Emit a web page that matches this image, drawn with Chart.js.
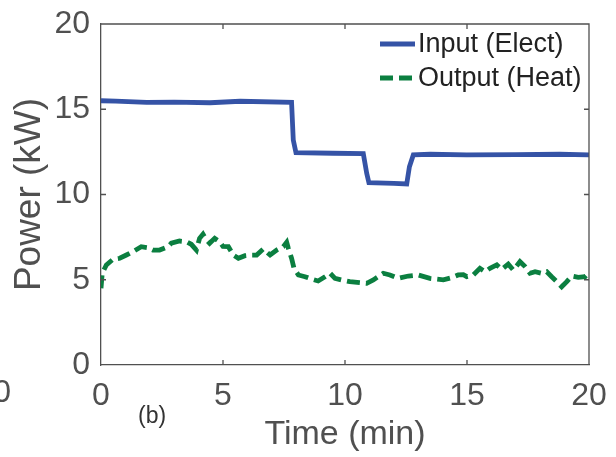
<!DOCTYPE html>
<html>
<head>
<meta charset="utf-8">
<script src="https://cdn.jsdelivr.net/npm/chart.js@4/dist/chart.umd.min.js"></script>
<style>
  html, body { margin: 0; padding: 0; background: #fff; }
  #wrap { width: 616px; height: 457px; }
</style>
</head>
<body>
<div id="wrap"><canvas id="power" width="616" height="457"></canvas></div>
<script>
// Input (Elect) - electrical power in, kW
const timeIn = [0, 0.6, 1.87, 3.0, 4.47, 5.7, 7.81, 7.88, 7.99, 9.5, 10.75, 10.89, 10.98, 12.0, 12.53, 12.64, 12.8, 13.5, 14.99, 17.0, 18.8, 20];
const powerIn = [15.5, 15.48, 15.4, 15.42, 15.38, 15.47, 15.4, 13.2, 12.45, 12.42, 12.4, 11.24, 10.69, 10.65, 10.62, 11.63, 12.32, 12.36, 12.32, 12.34, 12.36, 12.32];

// Output (Heat) - heat delivered, kW
const timeOut = [0, 0.05, 0.22, 0.49, 0.77, 1.04, 1.31, 1.65, 1.93, 2.13, 2.4, 2.75, 2.88, 3.22, 3.5, 3.7, 3.91, 4.04, 4.18, 4.32,
  4.45, 4.66, 4.86, 5.0, 5.22, 5.42, 5.63, 5.9, 6.18, 6.38, 6.65, 6.93, 7.2, 7.47, 7.61, 7.68, 7.81, 7.91, 8.09, 8.36,
  8.64, 8.9, 9.18, 9.39, 9.59, 9.86, 10.2, 10.6, 10.89, 11.16, 11.57, 11.84, 12.18, 12.6, 13.0, 13.48, 14.03, 14.37, 14.64, 14.85,
  14.99, 15.26, 15.53, 15.74, 15.94, 16.22, 16.42, 16.69, 16.9, 17.17, 17.38, 17.58, 17.79, 18.06, 18.27, 18.47, 18.68, 18.88, 19.09, 19.29,
  19.56, 19.84, 19.97];
const powerOut = [4.5, 5.38, 5.87, 6.2, 6.26, 6.45, 6.65, 6.94, 6.88, 6.74, 6.74, 6.94, 7.14, 7.27, 7.23, 7.08, 6.74, 7.43, 7.67, 7.33,
  7.14, 7.43, 7.23, 6.95, 6.94, 6.45, 6.26, 6.41, 6.45, 6.45, 6.8, 6.45, 6.74, 6.94, 7.2, 6.84, 6.26, 5.67, 5.28, 5.18,
  5.04, 4.93, 5.18, 5.38, 5.08, 4.99, 4.89, 4.83, 4.79, 4.99, 5.38, 5.28, 5.08, 5.22, 5.28, 5.08, 4.99, 5.12, 5.28, 5.3,
  5.18, 5.28, 5.67, 5.47, 5.67, 5.87, 5.61, 5.92, 5.57, 6.06, 5.77, 5.38, 5.47, 5.38, 5.47, 5.18, 4.89, 4.59, 4.89, 5.22,
  5.14, 5.18, 5.38];

const tickValues = [0, 5, 10, 15, 20];
const seriesLabels = ['Input (Elect)', 'Output (Heat)'];

const fontFamily = '"Liberation Sans", Arial, sans-serif';
const axisColor = '#505050';
const blue = '#3553a6';
const green = '#0b7f40';

function pairs(xs, ys) {
    return xs.map(function (x, i) { return { x: x, y: ys[i] }; });
}

// box, inward ticks, legend and loose labels
const framePlugin = {
    id: 'frame',
    afterDraw: function (chart) {
        const ctx = chart.ctx;
        const a = chart.chartArea;
        const xs = chart.scales.x, ys = chart.scales.y;
        const tl = 5;
        ctx.save();
        ctx.strokeStyle = axisColor;
        ctx.lineWidth = 1.3;
        ctx.beginPath();
        ctx.moveTo(a.left, a.top); ctx.lineTo(a.right, a.top); ctx.lineTo(a.right, a.bottom);
        tickValues.slice(1, -1).forEach(function (v) {
            const px = xs.getPixelForValue(v);
            ctx.moveTo(px, a.bottom); ctx.lineTo(px, a.bottom - tl);
            ctx.moveTo(px, a.top); ctx.lineTo(px, a.top + tl);
            const py = ys.getPixelForValue(v);
            ctx.moveTo(a.left, py); ctx.lineTo(a.left + tl, py);
            ctx.moveTo(a.right, py); ctx.lineTo(a.right - tl, py);
        });
        ctx.stroke();

        // legend
        const lx = 380, lw = 35, rows = [44, 78];
        ctx.font = '27px ' + fontFamily;
        ctx.textBaseline = 'middle';
        ctx.textAlign = 'left';
        chart.data.datasets.forEach(function (ds, i) {
            ctx.strokeStyle = ds.borderColor;
            ctx.lineWidth = ds.borderWidth;
            ctx.setLineDash(ds.borderDash || []);
            ctx.beginPath();
            ctx.moveTo(lx, rows[i]); ctx.lineTo(lx + lw, rows[i]);
            ctx.stroke();
            ctx.setLineDash([]);
            ctx.fillStyle = '#222';
            ctx.fillText(seriesLabels[i], lx + lw + 3, rows[i] + 1);
        });

        // panel tag and clipped neighbour tick
        ctx.fillStyle = '#333';
        ctx.font = '23px ' + fontFamily;
        ctx.fillText('(b)', 138, 417);
        ctx.fillStyle = axisColor;
        ctx.font = '32px ' + fontFamily;
        ctx.textAlign = 'right';
        ctx.fillText('20', 11, 393);
        ctx.restore();
    }
};

new Chart(document.getElementById('power').getContext('2d'), {
    type: 'line',
    data: {
        datasets: [{
            label: seriesLabels[0],
            data: pairs(timeIn, powerIn),
            borderColor: blue,
            borderWidth: 4.8,
            pointRadius: 0,
            tension: 0
        }, {
            label: seriesLabels[1],
            data: pairs(timeOut, powerOut),
            borderColor: green,
            borderWidth: 4.8,
            borderDash: [13, 6],
            pointRadius: 0,
            tension: 0
        }]
    },
    options: {
        responsive: false,
        animation: false,
        layout: { padding: { left: 0, right: 27, top: 24, bottom: 0 } },
        plugins: { legend: { display: false }, tooltip: { enabled: false } },
        scales: {
            x: {
                type: 'linear',
                min: 0, max: 20,
                afterFit: function (scale) {
                    scale.height = 92;
                    scale.paddingLeft = 0; scale.paddingRight = 0;
                },
                afterBuildTicks: function (scale) { scale.ticks = tickValues.map(function (v) { return { value: v }; }); },
                grid: { display: false, drawTicks: false },
                border: { display: true, color: axisColor, width: 1.3 },
                ticks: { color: axisColor, padding: 12, maxRotation: 0, font: { family: fontFamily, size: 32 } },
                title: { display: true, text: 'Time (min)', color: axisColor, padding: { top: 0, bottom: 2 }, font: { family: fontFamily, size: 34 } }
            },
            y: {
                min: 0, max: 20,
                afterFit: function (scale) {
                    scale.width = 101;
                    scale.paddingTop = 0; scale.paddingBottom = 0;
                },
                afterBuildTicks: function (scale) { scale.ticks = tickValues.map(function (v) { return { value: v }; }); },
                grid: { display: false, drawTicks: false },
                border: { display: true, color: axisColor, width: 1.3 },
                ticks: { color: axisColor, padding: 11, font: { family: fontFamily, size: 32 } },
                title: { display: true, text: 'Power (kW)', color: axisColor, padding: { top: 8, bottom: 0 }, font: { family: fontFamily, size: 37 } }
            }
        }
    },
    plugins: [framePlugin]
});
</script>
</body>
</html>
